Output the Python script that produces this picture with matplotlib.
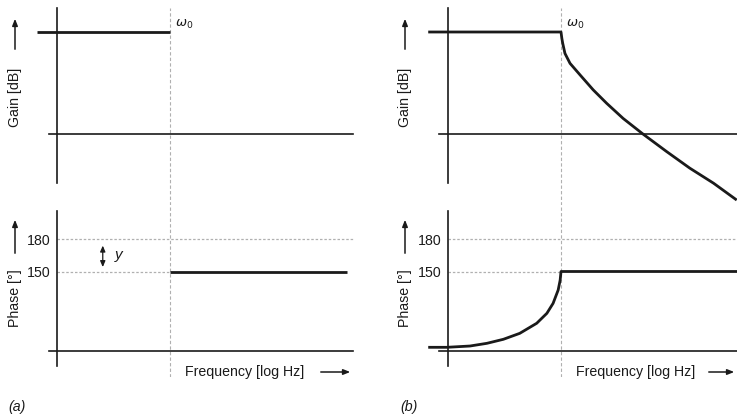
import matplotlib
matplotlib.use("Agg")
import matplotlib.pyplot as plt

# ---------------- data ----------------
# x = log10(f / f0); omega0 at 0
gain_a_x = [-2.35, 0.0]
gain_a = [40, 40]
phase_a_x = [0.0, 3.13]
phase_a = [150, 150]

gain_b_x = [-2.35, 0.0, 0.015, 0.03, 0.07, 0.16, 0.34, 0.57, 0.81, 1.10, 1.45, 1.87, 2.28, 2.70, 3.11]
gain_b = [40, 40, 37.5, 35.6, 31.6, 27.7, 23.1, 17.3, 12.0, 6.1, 0.0, -6.9, -13.4, -19.3, -25.9]

phase_b_x = [-2.35, -2.02, -1.61, -1.31, -1.02, -0.73, -0.43, -0.25, -0.14, -0.05, -0.015, 0.0, 3.12]
phase_b = [80, 80, 81.2, 83.7, 87.4, 92.9, 102.2, 111.4, 120.6, 132.9, 142.0, 150, 150]

phase_ticks = [150, 180]
phase_ticklabels = ["150", "180"]

# ---------------- layout helpers ----------------
W, H = 737, 416
DPI = 100
fig = plt.figure(figsize=(W / DPI, H / DPI), dpi=DPI)

PX_DEC = 56.5      # pixels per decade
PX_DB = 2.55       # pixels per dB
PX_DEG = 1.083     # pixels per degree

FONT = "Liberation Sans"
INK = "#1a1a1a"
GRID = "#b0b0b0"
FS = 10.2


def add_ax(x0_px, x1_px, y0_px, y1_px):
    return fig.add_axes([x0_px / W, 1 - y1_px / H, (x1_px - x0_px) / W, (y1_px - y0_px) / H])


def make_gain_ax(w0_px, xmin, xmax, base_left, base_right):
    x0 = w0_px + xmin * PX_DEC
    x1 = w0_px + xmax * PX_DEC
    ax = add_ax(x0, x1, 8, 205)
    ax.set_xlim(xmin, xmax)
    ax.set_ylim(-(205 - 134) / PX_DB, (134 - 8) / PX_DB)
    ax.patch.set_visible(False)
    for s in ["top", "right"]:
        ax.spines[s].set_visible(False)
    ax.spines["left"].set_position(("data", -2))
    ax.spines["left"].set_bounds(-(183 - 134) / PX_DB, (134 - 8) / PX_DB)
    ax.spines["bottom"].set_position(("data", 0))
    ax.spines["bottom"].set_bounds(base_left, base_right)
    for s in ["left", "bottom"]:
        ax.spines[s].set_linewidth(1.2)
        ax.spines[s].set_color(INK)
    ax.set_xticks([])
    ax.set_yticks([])
    ax.axvline(0, color=GRID, lw=0.8, ls=(0, (3, 2)))
    ax.text(0.08, 40.3, r"$\omega_0$", fontsize=9.5, color=INK, ha="left", va="bottom")
    return ax


def make_phase_ax(w0_px, xmin, xmax, base_left, base_right, grid_right):
    x0 = w0_px + xmin * PX_DEC
    x1 = w0_px + xmax * PX_DEC
    ax = add_ax(x0, x1, 205, 377)
    ax.set_xlim(xmin, xmax)
    top = 150 + (271.5 - 205) / PX_DEG
    bot = 150 - (377 - 271.5) / PX_DEG
    base = 150 - (351 - 271.5) / PX_DEG
    ax.set_ylim(bot, top)
    ax.patch.set_visible(False)
    for s in ["top", "right"]:
        ax.spines[s].set_visible(False)
    ax.spines["left"].set_position(("data", -2))
    ax.spines["left"].set_bounds(150 - (366 - 271.5) / PX_DEG, 150 + (271.5 - 211) / PX_DEG)
    ax.spines["bottom"].set_position(("data", base))
    ax.spines["bottom"].set_bounds(base_left, base_right)
    for s in ["left", "bottom"]:
        ax.spines[s].set_linewidth(1.2)
        ax.spines[s].set_color(INK)
    ax.set_xticks([])
    ax.set_yticks(phase_ticks)
    ax.set_yticklabels(phase_ticklabels, fontsize=FS, family=FONT, color=INK)
    ax.tick_params(axis="y", length=0, pad=5)
    ax.hlines(180, -2, grid_right, color=GRID, lw=0.9, ls=(0, (2, 1.5)))
    ax.hlines(150, -2, 0, color=GRID, lw=0.9, ls=(0, (2, 1.5)))
    ax.axvline(0, color=GRID, lw=0.8, ls=(0, (3, 2)))
    return ax


def side_labels(x_px):
    fig.text(x_px / W, 1 - 97 / H, "Gain [dB]", rotation=90, ha="center", va="center",
             fontsize=FS, family=FONT, color=INK)
    fig.add_artist(matplotlib.patches.FancyArrowPatch(
        (x_px / W, 1 - 52 / H), (x_px / W, 1 - 16 / H), transform=fig.transFigure,
        arrowstyle="-|>,head_length=4,head_width=1.6", lw=1.1, color=INK))
    fig.text(x_px / W, 1 - 298 / H, "Phase [°]", rotation=90, ha="center", va="center",
             fontsize=FS, family=FONT, color=INK)
    fig.add_artist(matplotlib.patches.FancyArrowPatch(
        (x_px / W, 1 - 256 / H), (x_px / W, 1 - 217 / H), transform=fig.transFigure,
        arrowstyle="-|>,head_length=4,head_width=1.6", lw=1.1, color=INK))


def freq_label(x_px, arrow_x0, arrow_x1):
    fig.text(x_px / W, 1 - 372 / H, "Frequency [log Hz]", ha="left", va="center",
             fontsize=FS, family=FONT, color=INK)
    fig.add_artist(matplotlib.patches.FancyArrowPatch(
        (arrow_x0 / W, 1 - 372 / H), (arrow_x1 / W, 1 - 372 / H), transform=fig.transFigure,
        arrowstyle="-|>,head_length=4,head_width=1.6", lw=1.1, color=INK))


# ---------------- panel (a) ----------------
w0_a = 170
ga = make_gain_ax(w0_a, -2.5, 3.4, -2.14, 3.24)
ga.plot(gain_a_x, gain_a, color=INK, lw=2.0, solid_capstyle="butt")

pa = make_phase_ax(w0_a, -2.5, 3.4, -2.14, 3.24, 3.24)
pa.plot(phase_a_x, phase_a, color=INK, lw=2.0, solid_capstyle="butt")
pa.annotate("", xy=(-1.19, 151.5), xytext=(-1.19, 176.5),
            arrowprops=dict(arrowstyle="<|-|>,head_length=0.35,head_width=0.15", lw=0.9, color=INK))
pa.text(-0.97, 165, "y", fontsize=11, style="italic", family=FONT, color=INK,
        ha="left", va="center")

side_labels(15)
freq_label(185, 318, 353)
fig.text(8 / W, 1 - 407 / H, "(a)", fontsize=FS, style="italic", family=FONT, color=INK,
         ha="left", va="center")

# ---------------- panel (b) ----------------
w0_b = 561
gb = make_gain_ax(w0_b, -2.5, 3.115, -2.16, 3.115)
gb.plot(gain_b_x, gain_b, color=INK, lw=2.0, solid_capstyle="butt", solid_joinstyle="round")

pb = make_phase_ax(w0_b, -2.5, 3.115, -2.16, 3.115, 3.115)
pb.plot(phase_b_x, phase_b, color=INK, lw=2.0, solid_capstyle="butt", solid_joinstyle="round")

side_labels(405)
freq_label(576, 706, 737)
fig.text(400 / W, 1 - 407 / H, "(b)", fontsize=FS, style="italic", family=FONT, color=INK,
         ha="left", va="center")

fig.savefig("out.png", dpi=DPI)
